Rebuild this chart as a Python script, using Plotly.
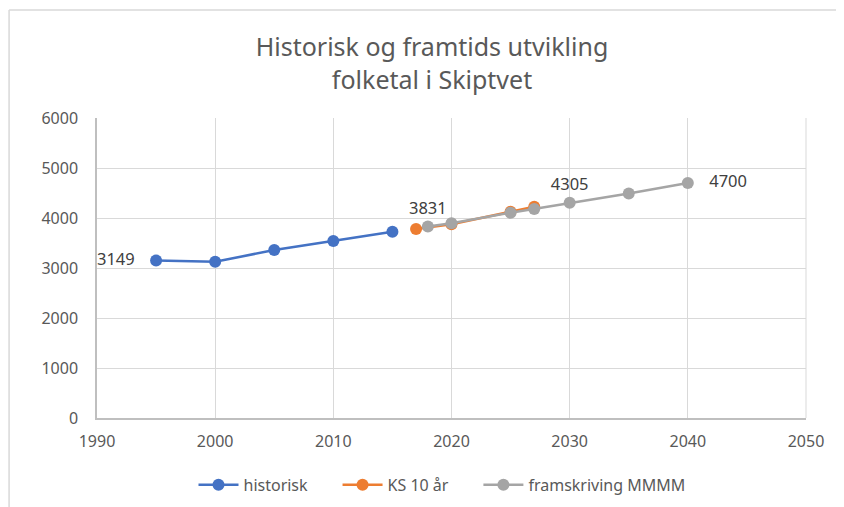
import plotly.graph_objects as go

hist_years = [1995, 2000, 2005, 2010, 2015]
hist_vals = [3149, 3125, 3360, 3540, 3725]

ks_years = [2017, 2020, 2025, 2027]
ks_vals = [3780, 3875, 4125, 4225]

fram_years = [2018, 2020, 2025, 2027, 2030, 2035, 2040]
fram_vals = [3831, 3895, 4105, 4180, 4305, 4490, 4700]

NB = "\u00a0"
hist_labels = ["3149" + NB * 3, "", "", "", ""]
fram_labels = ["3831", "", "", "", "4305", "", NB * 3 + "4700"]
fram_pos = ["top center", "top center", "top center", "top center", "top center", "top center", "middle right"]

series_names = ["historisk" + NB * 6, "KS 10 år" + NB * 6, "framskriving MMMM"]

title_text = "Historisk og framtids utvikling<br>folketal i Skiptvet"

FONT = "Noto Sans"
fig = go.Figure()
fig.add_trace(go.Scatter(
    x=hist_years, y=hist_vals, name=series_names[0], mode="lines+markers+text",
    line=dict(color="#4472C4", width=2.5), marker=dict(size=12, color="#4472C4"),
    text=hist_labels, textposition="middle left",
    textfont=dict(size=16.5, color="#404040", family=FONT)))
fig.add_trace(go.Scatter(
    x=ks_years, y=ks_vals, name=series_names[1], mode="lines+markers",
    line=dict(color="#ED7D31", width=2.5), marker=dict(size=12, color="#ED7D31")))
fig.add_trace(go.Scatter(
    x=fram_years, y=fram_vals, name=series_names[2], mode="lines+markers+text",
    line=dict(color="#A5A5A5", width=2.5), marker=dict(size=12, color="#A5A5A5"),
    text=fram_labels, textposition=fram_pos,
    textfont=dict(size=16.5, color="#404040", family=FONT)))

fig.update_layout(
    width=844, height=507,
    margin=dict(l=89, r=46, t=110, b=97),
    paper_bgcolor="white", plot_bgcolor="white",
    font=dict(family=FONT, color="#595959", size=16),
    title=dict(text=title_text, x=0.5024, xanchor="center", y=0.905, yanchor="middle",
               font=dict(size=25, color="#595959", family=FONT)),
    showlegend=True,
    legend=dict(orientation="h", x=0.4866, xanchor="center", y=-0.223, yanchor="middle",
                font=dict(size=16, color="#595959", family=FONT), traceorder="normal",
                itemwidth=40),
    xaxis=dict(range=[1990, 2050], dtick=10, tick0=1990, showgrid=True, gridcolor="#D9D9D9",
               gridwidth=1, showline=True, linecolor="#BFBFBF", linewidth=1.5,
               zeroline=False, ticks="", ticklabelstandoff=8,
               tickfont=dict(size=16, color="#595959")),
    yaxis=dict(range=[0, 6000], dtick=1000, showgrid=True, gridcolor="#D9D9D9",
               gridwidth=1, showline=True, linecolor="#BFBFBF", linewidth=1.5,
               zeroline=False, ticks="", ticklabelstandoff=14,
               tickfont=dict(size=16, color="#595959")),
    shapes=[
        dict(type="line", xref="paper", yref="paper", x0=-0.124, x1=1.07, y0=1.36, y1=1.36,
             line=dict(color="#D9D9D9", width=1.5)),
        dict(type="line", xref="paper", yref="paper", x0=-0.124, x1=-0.124, y0=-0.33, y1=1.36,
             line=dict(color="#D9D9D9", width=1.5)),
        dict(type="line", xref="paper", yref="paper", x0=1.0, x1=1.0, y0=0, y1=1,
             line=dict(color="#D9D9D9", width=1)),
    ],
)
fig.write_html("out.html")
